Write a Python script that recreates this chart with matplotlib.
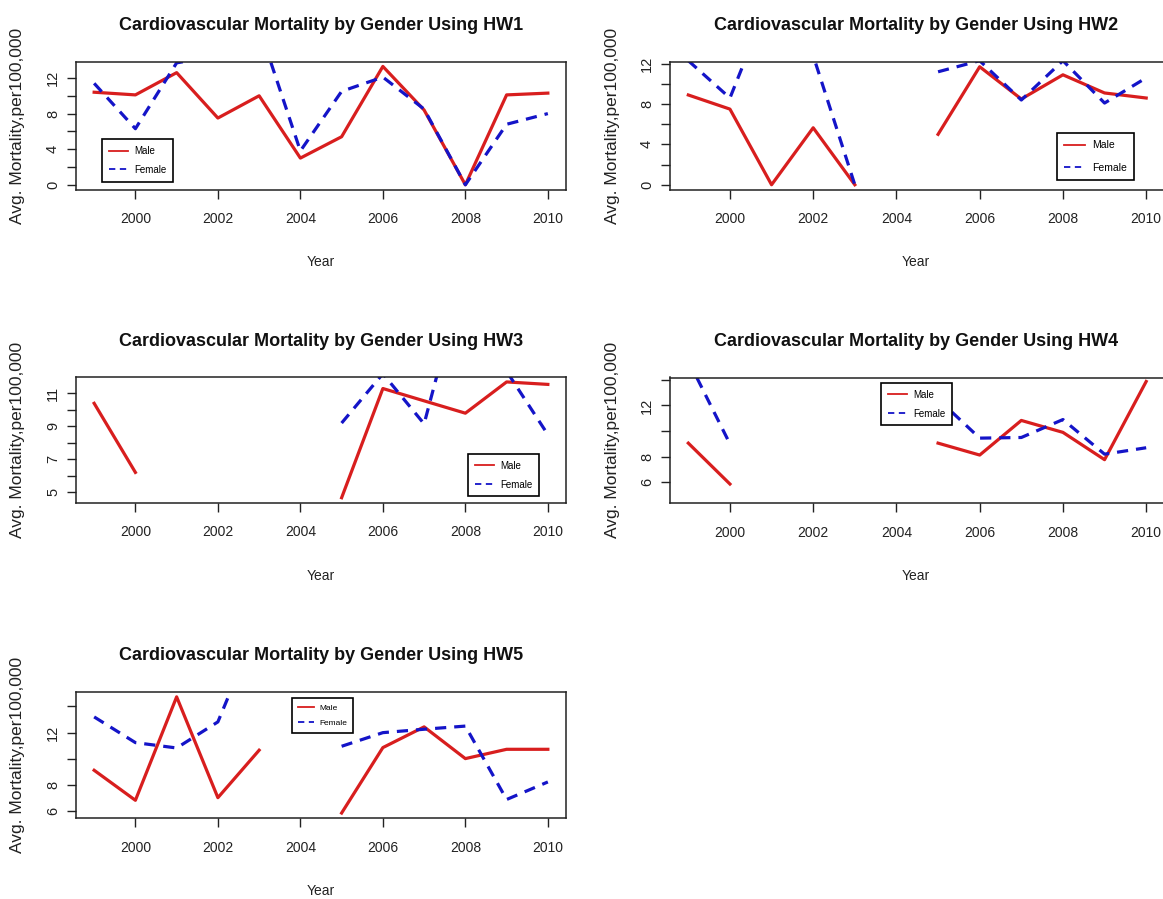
import numpy as np
import matplotlib
matplotlib.use("Agg")
import matplotlib.pyplot as plt

plt.rcParams['font.family'] = ['Liberation Sans', 'DejaVu Sans']

nan = np.nan
years = [1999, 2000, 2001, 2002, 2003, 2004, 2005, 2006, 2007, 2008, 2009, 2010]

# avg mortality per 100,000 (nan = no data)
hw1_male = [10.4, 10.1, 12.6, 7.5, 10.0, 3.0, 5.4, 13.3, 8.4, 0.0, 10.1, 10.3]
hw1_female = [11.4, 6.3, 13.7, 14.5, 17.7, 3.8, 10.5, 12.1, 8.5, 0.0, 6.8, 8.0]
hw2_male = [8.9, 7.5, 0.0, 5.65, 0.0, nan, 5.0, 11.7, 8.5, 10.9, 9.1, 8.6]
hw2_female = [12.3, 8.6, 18.9, 12.8, 0.0, nan, 11.2, 12.3, 8.4, 12.3, 8.1, 10.6]
hw3_male = [10.4, 6.2, nan, nan, nan, nan, 4.66, 11.3, 10.55, 9.8, 11.7, 11.55]
hw3_female = [nan, nan, nan, nan, nan, nan, 9.2, 12.2, 9.15, 18.6, 12.35, 8.5]
hw4_male = [9.06, 5.87, nan, nan, nan, nan, 9.06, 8.13, 10.83, 9.9, 7.77, 13.87]
hw4_female = [15.5, 9.0, nan, nan, nan, nan, 12.5, 9.45, 9.5, 10.9, 8.2, 8.7]
hw5_male = [9.13, 6.84, 14.73, 7.04, 10.66, nan, 5.87, 10.86, 12.44, 10.02, 10.73, 10.73]
hw5_female = [13.2, 11.24, 10.83, 12.82, 20.4, nan, 10.96, 12.0, 12.26, 12.5, 6.9, 8.24]

names = ["HW1", "HW2", "HW3", "HW4", "HW5"]
males = [hw1_male, hw2_male, hw3_male, hw4_male, hw5_male]
females = [hw1_female, hw2_female, hw3_female, hw4_female, hw5_female]

# axis setup per panel
ylims = [(-0.53, 13.83), (-0.47, 12.2), (4.37, 12.0), (4.39, 14.18), (5.49, 15.1)]
yticks = [[0, 2, 4, 6, 8, 10, 12], [0, 2, 4, 6, 8, 10, 12], [5, 6, 7, 8, 9, 10, 11],
          [6, 8, 10, 12, 14], [6, 8, 10, 12, 14]]
ylabels = [["0", "", "4", "", "8", "", "12"], ["0", "", "4", "", "8", "", "12"],
           ["5", "", "7", "", "9", "", "11"], ["6", "8", "", "12", ""], ["6", "8", "", "12", ""]]
xticks = [2000, 2002, 2004, 2006, 2008, 2010]

W, H = 1163, 899
# plot boxes in pixels: left, top, right, bottom
boxes = [(76, 61.7, 566, 189.5), (670, 61.7, 1164.5, 189.5), (76, 377, 566, 502.5),
         (670, 377.5, 1164.5, 503), (76, 692, 566, 818)]
# legend upper-left corner in pixels, font size, row spacing
legpos = [(101.7, 139.3, 7, 0.9), (1057, 133, 7.5, 1.2), (467.7, 454, 7, 0.9),
          (880.7, 383, 7, 0.9), (291.7, 698, 6, 0.9)]

red = '#D81E1E'
blue = '#1414C8'

fig = plt.figure(figsize=(W / 100, H / 100), dpi=100)

for i in range(5):
    l, t, r, b = boxes[i]
    ax = fig.add_axes([l / W, 1 - b / H, (r - l) / W, (b - t) / H])
    ax.plot(years, males[i], color=red, lw=2.3, label="Male")
    ax.plot(years, females[i], color=blue, lw=2.3, linestyle=(0, (3.5, 2.5)), label="Female")
    ax.set_xlim(1998.56, 2010.44)
    ax.set_ylim(*ylims[i])
    ax.set_xticks(xticks)
    ax.set_xticklabels([str(x) for x in xticks], fontsize=10, color='#222222')
    ax.set_yticks(yticks[i])
    ax.set_yticklabels(ylabels[i], fontsize=10.5, rotation=90, va='center', color='#222222')
    ax.tick_params(axis='both', length=6.5, width=1, color='#222222')
    ax.tick_params(axis='x', pad=10)
    ax.tick_params(axis='y', pad=5)
    for s in ax.spines.values():
        s.set_linewidth(1.1)
        s.set_color('#222222')

    cx = (l + r) / 2
    if r > W:
        cx = (l + r) / 2 - 1
    fig.text(cx / W, 1 - (t - 36) / H, "Cardiovascular Mortality by Gender Using " + names[i],
             ha='center', va='center', fontsize=13, fontweight='bold', color='#111111')
    fig.text(cx / W, 1 - (b + 73) / H, "Year", ha='center', va='center', fontsize=10, color='#222222')
    fig.text((l - 58) / W, 1 - ((t + b) / 2) / H, "Avg. Mortality,per100,000", rotation=90,
             ha='center', va='center', fontsize=12.5, color='#222222')

    lx, ly, fs, sp = legpos[i]
    leg = ax.legend(loc='upper left', bbox_to_anchor=(lx / W, 1 - ly / H), bbox_transform=fig.transFigure,
                    prop={'family': ['Liberation Sans Narrow', 'Liberation Sans'], 'size': fs},
                    frameon=True, fancybox=False, borderaxespad=0, borderpad=0.7,
                    handlelength=2.0, handletextpad=0.65, labelspacing=sp)
    leg.get_frame().set_edgecolor('black')
    leg.get_frame().set_linewidth(1.2)
    leg.get_frame().set_alpha(1)
    for h in leg.get_lines():
        h.set_linewidth(1.3)

fig.savefig("out.png", dpi=100)
